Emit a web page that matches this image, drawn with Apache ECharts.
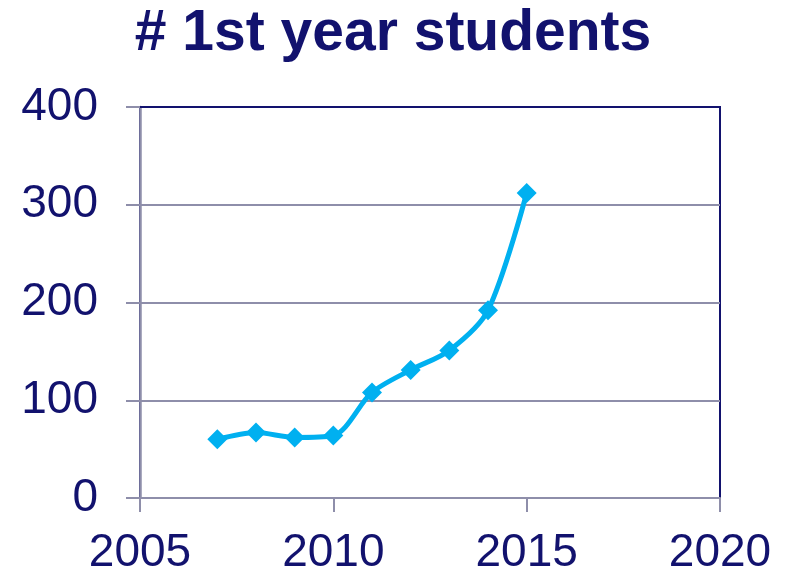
<!DOCTYPE html>
<html>
<head>
<meta charset="utf-8">
<script src="https://cdn.jsdelivr.net/npm/echarts@6/dist/echarts.min.js"></script>
<style>html,body{margin:0;padding:0;background:#fff}#c{width:786px;height:576px}</style>
</head>
<body>
<div id="c"></div>
<script>
const years = [2007, 2008, 2009, 2010, 2011, 2012, 2013, 2014, 2015];
const students = [60, 67, 62, 64, 108, 131, 151, 192, 312];
const chartTitle = '# 1st year students';

const navy = '#12126e';
const gridGray = '#8e8eaa';
const chart = echarts.init(document.getElementById('c'));
chart.setOption({
  animation: false,
  title: {
    text: chartTitle,
    left: 'center',
    top: 1,
    padding: [5, 0, 5, 14],
    textStyle: { fontFamily: 'Liberation Sans, Arial', fontWeight: 'bold', fontSize: 57, color: navy }
  },
  grid: { left: 140, right: 66, top: 107, bottom: 76, show: true, borderColor: navy, borderWidth: 2 },
  xAxis: [{
    type: 'value', min: 2005, max: 2020, interval: 5,
    axisLine: { show: true, lineStyle: { color: gridGray, width: 2 } },
    axisTick: { show: true, length: 14, lineStyle: { color: gridGray, width: 2 } },
    splitLine: { show: false },
    axisLabel: { margin: 32, formatter: v => String(v), fontFamily: 'Liberation Sans, Arial', fontSize: 46, color: navy }
  }, {
    type: 'value', position: 'top', min: 2005, max: 2020, interval: 5,
    axisLine: { show: true, lineStyle: { color: navy, width: 2 } },
    axisTick: { show: false }, axisLabel: { show: false }, splitLine: { show: false }
  }],
  yAxis: {
    type: 'value', min: 0, max: 400, interval: 100,
    axisLine: { show: true, lineStyle: { color: gridGray, width: 2.5 } },
    axisTick: { show: true, length: 14, lineStyle: { color: gridGray, width: 2 } },
    splitLine: { show: true, lineStyle: { color: gridGray, width: 2 } },
    axisLabel: { margin: 42, fontFamily: 'Liberation Sans, Arial', fontSize: 46, color: navy }
  },
  series: [{
    type: 'line',
    xAxisIndex: 0,
    data: years.map((y, i) => [y, students[i]]),
    smooth: 0.3,
    symbol: 'diamond',
    symbolSize: 20,
    lineStyle: { color: '#00b0f0', width: 5 },
    itemStyle: { color: '#00b0f0' }
  }]
});
</script>
</body>
</html>
